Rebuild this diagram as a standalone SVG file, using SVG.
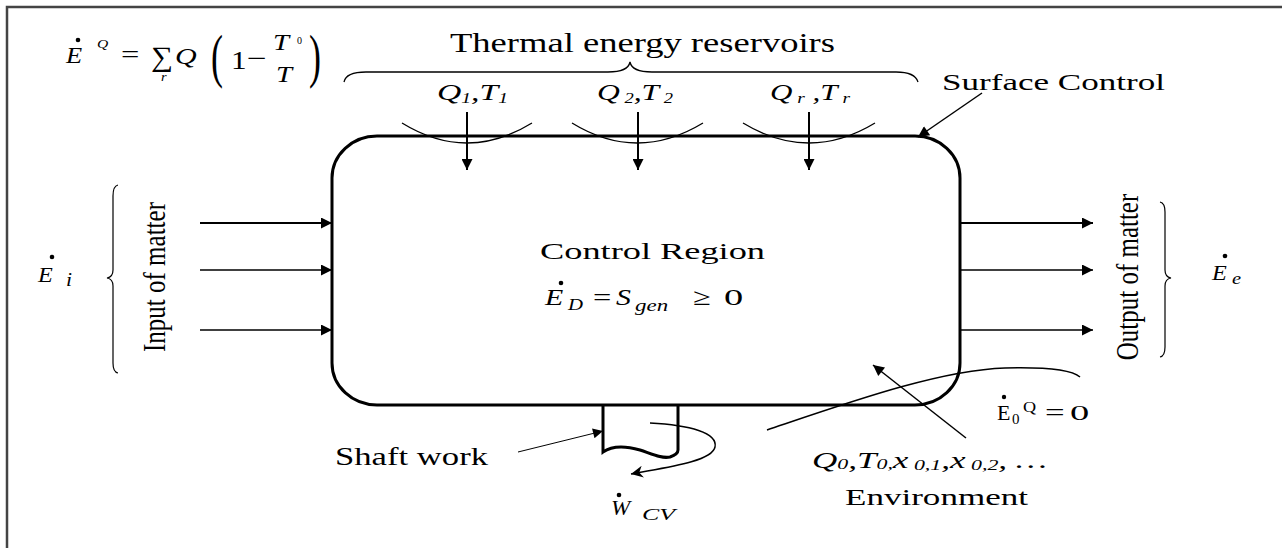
<svg xmlns="http://www.w3.org/2000/svg" width="1282" height="548" viewBox="0 0 1282 548">
<style>
.t{font-family:"Liberation Serif","Times New Roman",Times,"DejaVu Serif","Noto Serif",serif;fill:#000}
.i{font-style:italic}
.ln{fill:none;stroke:#000}
</style>
<defs>
<marker id="ah" viewBox="0 0 10 10" refX="10" refY="5" markerWidth="14" markerHeight="11" markerUnits="userSpaceOnUse" orient="auto">
<path d="M0,0 L10,5 L0,10 z" fill="#000"/>
</marker>
<marker id="ahs" viewBox="0 0 10 10" refX="10" refY="5" markerWidth="12" markerHeight="10" markerUnits="userSpaceOnUse" orient="auto">
<path d="M0,0 L10,5 L0,10 z" fill="#000"/>
</marker>
<marker id="ahv" viewBox="0 0 10 10" refX="10" refY="5" markerWidth="18" markerHeight="12" markerUnits="userSpaceOnUse" orient="auto">
<path d="M0,0 L10,5 L0,10 L3,5 z" fill="#000"/>
</marker>
</defs>
<rect width="1282" height="548" fill="#fff"/>
<g id="frame"><path d="M7,548 L7,7 L1282,7" fill="none" stroke="#444" stroke-width="2.5"/></g>

<g id="control-region">
<rect x="332" y="136" width="628" height="269" rx="45" ry="42" fill="none" stroke="#000" stroke-width="3"/>
<text class="t" x="540" y="259" font-size="24" textLength="225" lengthAdjust="spacingAndGlyphs">Control  Region</text>
<g id="ed">
<text class="t i" transform="translate(545,305) scale(1.3,1)" font-size="23">E</text>
<circle cx="561" cy="283" r="2.3" fill="#000"/>
<text class="t i" transform="translate(568,310) scale(1.3,1)" font-size="16">D</text>
<text class="t" transform="translate(593,305) scale(1.35,1)" font-size="24">=</text>
<text class="t i" transform="translate(616,305) scale(1.3,1)" font-size="23">S</text>
<text class="t i" transform="translate(635,311) scale(1.35,1)" font-size="17">gen</text>
<text class="t" transform="translate(693,305) scale(1.35,1)" font-size="24">≥</text>
<text class="t" transform="translate(724,305) scale(1.6,1)" font-size="24">0</text>
</g>
</g>

<g id="formula">
<text class="t i" transform="translate(66,63) scale(1.15,1)" font-size="23">E</text>
<circle cx="78" cy="40" r="2.3" fill="#000"/>
<text class="t i" transform="translate(97,48) scale(1.2,1)" font-size="13">Q</text>
<text class="t" transform="translate(121,63) scale(1.3,1)" font-size="25">=</text>
<text class="t" transform="translate(151,66) scale(1.1,1)" font-size="28">∑</text>
<text class="t i" transform="translate(161,81) scale(1.2,1)" font-size="12">r</text>
<text class="t i" transform="translate(175,64) scale(1.25,1)" font-size="24">Q</text>
<text class="t" transform="translate(211,76) scale(0.9,1.5)" font-size="40">(</text>
<text class="t" transform="translate(231,69) scale(1.2,1)" font-size="26">1</text>
<text class="t" transform="translate(247,67) scale(1.35,1)" font-size="26">−</text>
<text class="t i" transform="translate(273,50) scale(1.2,1)" font-size="24">T</text>
<text class="t" transform="translate(297,44)" font-size="10">0</text>
<text class="t i" transform="translate(276,82) scale(1.2,1)" font-size="24">T</text>
<text class="t" transform="translate(309,76) scale(0.9,1.5)" font-size="40">)</text>
</g>

<g id="reservoirs">
<text class="t" x="450" y="52" font-size="28" textLength="385" lengthAdjust="spacingAndGlyphs">Thermal energy reservoirs</text>
<path class="ln" stroke-width="1.3" d="M344,82 Q346,72 366,72 L608,72 Q628,72 630,62 Q632,72 652,72 L896,72 Q915,72 918,82"/>
<g id="r1">
<text class="t i" x="437" y="100" font-size="24" textLength="71" lengthAdjust="spacingAndGlyphs">Q<tspan font-size="14" dy="3">1</tspan><tspan dy="-3">,</tspan>T<tspan font-size="14" dy="3">1</tspan></text>
<path class="ln" stroke-width="1.3" d="M402,123 Q467,163 532,123"/>
</g>
<g id="r2">
<text class="t i" x="597" y="100" font-size="24" textLength="76" lengthAdjust="spacingAndGlyphs">Q<tspan font-size="14" dy="3"> 2</tspan><tspan dy="-3">,</tspan>T<tspan font-size="14" dy="3"> 2</tspan></text>
<path class="ln" stroke-width="1.3" d="M572,123 Q637,163 703,123"/>
</g>
<g id="r3">
<text class="t i" x="770" y="100" font-size="24" textLength="80" lengthAdjust="spacingAndGlyphs">Q<tspan font-size="15" dy="3"> r</tspan><tspan dy="-3"> ,</tspan>T<tspan font-size="15" dy="3"> r</tspan></text>
<path class="ln" stroke-width="1.3" d="M743,123 Q809,163 875,123"/>
</g>
</g>

<g id="surface-control">
<text class="t" x="942" y="90" font-size="24" textLength="223" lengthAdjust="spacingAndGlyphs">Surface Control</text>
</g>

<g id="input">
<path class="ln" stroke-width="1.2" d="M118,185 Q113,186 113,196 L113,270 Q113,277 107,278 Q113,279 113,286 L113,363 Q113,372 118,373"/>
<text class="t" transform="translate(165,277) scale(1.3,1) rotate(-90)" font-size="25" text-anchor="middle">Input of matter</text>
<text class="t i" transform="translate(38,282) scale(1.1,1)" font-size="22">E</text>
<circle cx="52" cy="257" r="2.3" fill="#000"/>
<text class="t i" transform="translate(66,286) scale(1.2,1)" font-size="18">i</text>
</g>

<g id="output">
<path class="ln" stroke-width="1.2" d="M1160,202 Q1165,203 1165,212 L1165,270 Q1165,277 1171,278 Q1165,279 1165,286 L1165,347 Q1165,356 1160,357"/>
<text class="t" transform="translate(1138,277) scale(1.3,1) rotate(-90)" font-size="25" text-anchor="middle">Output of matter</text>
<text class="t i" transform="translate(1212,280) scale(1.1,1)" font-size="22">E</text>
<circle cx="1225" cy="256" r="2.3" fill="#000"/>
<text class="t i" transform="translate(1232,284) scale(1.2,1)" font-size="17">e</text>
</g>

<g id="shaft">
<path class="ln" stroke-width="3" d="M603,405 L603,452 C613,445 626,446 640,450 C652,454 662,459 670,457 C676,455 678,453 678,450 L678,405"/>
<text class="t" x="335" y="465" font-size="25" textLength="153" lengthAdjust="spacingAndGlyphs">Shaft work</text>
<text class="t i" transform="translate(611,515) scale(1.05,1)" font-size="22">W</text>
<circle cx="619" cy="495" r="2.3" fill="#000"/>
<text class="t i" x="642" y="520" font-size="17" textLength="33" lengthAdjust="spacingAndGlyphs">CV</text>
</g>

<g id="environment">
<path class="ln" stroke-width="1.5" d="M767,430 C850,402 940,370 1005,368 C1045,367 1072,370 1080,377"/>
<text class="t" x="997" y="420" font-size="22">E</text>
<circle cx="1004" cy="397" r="2.2" fill="#000"/>
<text class="t" x="1012" y="424" font-size="15">0</text>
<text class="t" transform="translate(1023,412) scale(1.3,1)" font-size="14">Q</text>
<text class="t" transform="translate(1045,420) scale(1.45,1)" font-size="24">=</text>
<text class="t" transform="translate(1070,420) scale(1.75,1)" font-size="22">0</text>
<text class="t i" x="812" y="468" font-size="24" textLength="235" lengthAdjust="spacingAndGlyphs">Q<tspan font-size="15" dy="1">0</tspan><tspan dy="-1">,</tspan>T<tspan font-size="15" dy="1">0,</tspan><tspan dy="-1">x</tspan><tspan font-size="15" dy="2"> 0,1</tspan><tspan dy="-2">,</tspan><tspan>x</tspan><tspan font-size="15" dy="2"> 0,2</tspan><tspan dy="-2">, …</tspan></text>
<text class="t" x="845" y="505" font-size="23" textLength="183" lengthAdjust="spacingAndGlyphs">Environment</text>
</g>

<g id="connectors">
<line class="ln" stroke-width="2" x1="200" y1="223" x2="332" y2="223" marker-end="url(#ah)"/>
<line class="ln" stroke-width="1.6" x1="200" y1="270" x2="332" y2="270" marker-end="url(#ah)"/>
<line class="ln" stroke-width="1.6" x1="200" y1="330" x2="332" y2="330" marker-end="url(#ah)"/>
<line class="ln" stroke-width="2" x1="960" y1="223" x2="1093" y2="223" marker-end="url(#ah)"/>
<line class="ln" stroke-width="1.6" x1="960" y1="270" x2="1093" y2="270" marker-end="url(#ah)"/>
<line class="ln" stroke-width="1.6" x1="960" y1="330" x2="1093" y2="330" marker-end="url(#ah)"/>
<line class="ln" stroke-width="2" x1="467" y1="112" x2="467" y2="170" marker-end="url(#ah)"/>
<line class="ln" stroke-width="2" x1="638" y1="112" x2="638" y2="170" marker-end="url(#ah)"/>
<line class="ln" stroke-width="2" x1="809" y1="112" x2="809" y2="170" marker-end="url(#ah)"/>
<line class="ln" stroke-width="1.5" x1="982" y1="93" x2="918" y2="137" marker-end="url(#ah)"/>
<line class="ln" stroke-width="1" x1="518" y1="452" x2="603" y2="431" marker-end="url(#ahs)"/>
<line class="ln" stroke-width="1.5" x1="966" y1="438" x2="873" y2="365" marker-end="url(#ah)"/>
<path class="ln" stroke-width="1.5" d="M650,423 C690,425 718,433 715,447 C712,462 662,468 631,474" marker-end="url(#ahv)"/>
</g>
</svg>
